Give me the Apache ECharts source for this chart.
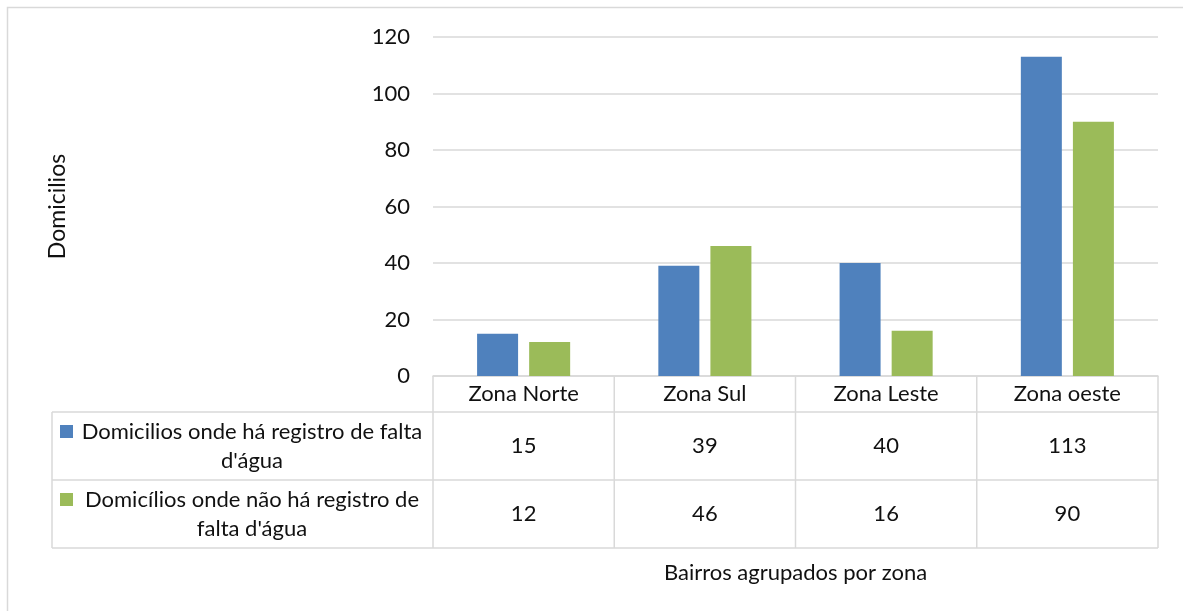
<!DOCTYPE html>
<html>
<head>
<meta charset="utf-8">
<script src="https://cdn.jsdelivr.net/npm/echarts@6/dist/echarts.min.js"></script>
<style>
  html, body { margin: 0; padding: 0; background: #ffffff; }
  #chart { width: 1183px; height: 611px; }
</style>
</head>
<body>
<div id="chart"></div>
<script>
// Zones (categories) and household counts per series
var zones = ['Zona Norte', 'Zona Sul', 'Zona Leste', 'Zona oeste'];
var seriesNames = [
  "Domicilios onde há registro de falta\nd'água",
  "Domicílios onde não há registro de\nfalta d'água"
];
var comFalta = [15, 39, 40, 113];
var semFalta = [12, 46, 16, 90];
var yTicks = [0, 20, 40, 60, 80, 100, 120];

var colors = ['#4F81BD', '#9BBB59'];
var gridColor = '#D9D9D9';
var textColor = '#111111';
var font = 'Lato, "Open Sans", sans-serif';
var fs = 22;

var chart = echarts.init(document.getElementById('chart'), null, { renderer: 'canvas' });

var option = {
  animation: false,
  backgroundColor: '#ffffff',
  grid: { left: 433, right: 25, top: 37, bottom: 235, containLabel: false },
  xAxis: {
    type: 'category',
    data: zones,
    name: 'Bairros agrupados por zona',
    nameLocation: 'middle',
    nameGap: 186,
    nameTextStyle: { color: textColor, fontFamily: font, fontSize: fs },
    axisLine: { show: true, lineStyle: { color: gridColor, width: 1.5 } },
    axisTick: { show: false },
    axisLabel: { show: false },
    splitLine: { show: false }
  },
  yAxis: {
    type: 'value',
    min: yTicks[0],
    max: yTicks[yTicks.length - 1],
    interval: yTicks[1] - yTicks[0],
    name: 'Domicilios',
    nameLocation: 'middle',
    nameGap: 364,
    nameRotate: 90,
    nameTextStyle: { color: textColor, fontFamily: font, fontSize: 23 },
    axisLine: { show: false },
    axisTick: { show: false },
    axisLabel: { color: textColor, fontFamily: font, fontSize: fs, margin: 23 },
    splitLine: { lineStyle: { color: gridColor, width: 1.5 } }
  },
  series: [
    {
      name: seriesNames[0], type: 'bar', data: comFalta,
      barWidth: 41, barGap: '27%',
      itemStyle: { color: colors[0] }
    },
    {
      name: seriesNames[1], type: 'bar', data: semFalta,
      barWidth: 41, barGap: '27%',
      itemStyle: { color: colors[1] }
    }
  ]
};

chart.setOption(option);

// Data table below the plot, laid out from the category axis positions
function buildTable() {
  var c0 = chart.convertToPixel({ xAxisIndex: 0 }, 0);
  var c1 = chart.convertToPixel({ xAxisIndex: 0 }, 1);
  var band = c1 - c0;
  var axisY = chart.convertToPixel({ yAxisIndex: 0 }, 0);
  var left = c0 - band / 2;
  var right = left + band * zones.length;
  var legendLeft = 52;
  var headerH = 36, rowH = 68;
  var rowTops = [axisY + headerH, axisY + headerH + rowH];
  var bottom = axisY + headerH + 2 * rowH;
  var lineStyle = { stroke: gridColor, lineWidth: 1.5 };
  var els = [];

  // outer chart frame
  els.push({ type: 'rect', shape: { x: 7.5, y: 7.5, width: 1200, height: 700 },
    style: { fill: null, stroke: gridColor, lineWidth: 1.5 }, silent: true });

  // horizontal rules
  [rowTops[0], rowTops[1], bottom].forEach(function (y) {
    els.push({ type: 'line', shape: { x1: legendLeft, y1: y, x2: right, y2: y }, style: lineStyle });
  });
  // vertical rules
  els.push({ type: 'line', shape: { x1: legendLeft, y1: rowTops[0], x2: legendLeft, y2: bottom }, style: lineStyle });
  for (var i = 0; i <= zones.length; i++) {
    var x = left + band * i;
    els.push({ type: 'line', shape: { x1: x, y1: axisY, x2: x, y2: bottom }, style: lineStyle });
  }
  // header labels
  zones.forEach(function (z, i) {
    els.push({ type: 'text', x: left + band * (i + 0.5), y: axisY + headerH / 2,
      style: { text: z, fill: textColor, font: fs + 'px ' + font, align: 'center', verticalAlign: 'middle' } });
  });
  // rows: legend key + values
  var rows = [comFalta, semFalta];
  rows.forEach(function (vals, r) {
    var cy = rowTops[r] + rowH / 2;
    els.push({ type: 'rect', shape: { x: 60, y: cy - 14.5 - 6.5, width: 13, height: 13 },
      style: { fill: colors[r] } });
    els.push({ type: 'text', x: 252, y: cy,
      style: { text: seriesNames[r], fill: textColor, font: fs + 'px ' + font,
        align: 'center', verticalAlign: 'middle', lineHeight: 29 } });
    vals.forEach(function (v, i) {
      els.push({ type: 'text', x: left + band * (i + 0.5), y: cy,
        style: { text: String(v), fill: textColor, font: fs + 'px ' + font, align: 'center', verticalAlign: 'middle' } });
    });
  });
  chart.setOption({ graphic: { elements: els } });
}
buildTable();
</script>
</body>
</html>
